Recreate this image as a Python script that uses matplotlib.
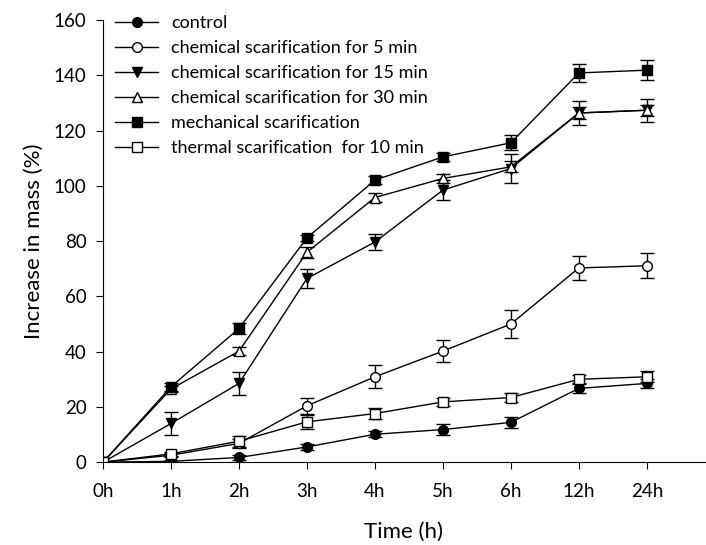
import matplotlib
matplotlib.use('Agg')
import matplotlib.pyplot as plt
import numpy as np

plt.rcParams['font.family'] = ['Lato', 'DejaVu Sans']

times = ['0h', '1h', '2h', '3h', '4h', '5h', '6h', '12h', '24h']

control = [0, 0.3, 1.7, 5.5, 10.1, 11.8, 14.4, 26.7, 28.5]
control_err = [0, 0.5, 0.8, 1.0, 1.0, 2.0, 2.0, 1.5, 1.5]

chem5 = [0, 2.5, 6.8, 20.4, 30.9, 40.2, 50.0, 70.3, 71.1]
chem5_err = [0, 0.8, 1.5, 3.0, 4.2, 4.0, 5.0, 4.4, 4.6]

chem15 = [0, 14.0, 28.5, 66.5, 79.7, 98.5, 106.3, 126.4, 127.4]
chem15_err = [0, 4.2, 4.3, 3.6, 3.0, 3.6, 5.3, 4.2, 4.2]

chem30 = [0, 26.5, 40.2, 76.0, 95.8, 102.7, 106.9, 126.4, 127.4]
chem30_err = [0, 1.0, 1.5, 2.0, 1.5, 1.5, 2.0, 2.0, 2.0]

mech = [0, 27.3, 48.4, 81.2, 102.1, 110.5, 115.6, 140.9, 141.9]
mech_err = [0, 1.5, 2.0, 1.0, 1.5, 1.5, 2.7, 3.4, 3.7]

thermal = [0, 3.0, 7.6, 14.6, 17.6, 21.8, 23.4, 30.0, 30.9]
thermal_err = [0, 0.8, 2.0, 2.5, 2.0, 1.5, 1.5, 1.5, 2.0]

labels = ['control',
          'chemical scarification for 5 min',
          'chemical scarification for 15 min',
          'chemical scarification for 30 min',
          'mechanical scarification',
          'thermal scarification  for 10 min']

series = [(control, control_err, 'o', 'black'),
          (chem5, chem5_err, 'o', 'white'),
          (chem15, chem15_err, 'v', 'black'),
          (chem30, chem30_err, '^', 'white'),
          (mech, mech_err, 's', 'black'),
          (thermal, thermal_err, 's', 'white')]

fig = plt.figure(figsize=(7.06, 5.45), dpi=100)
ax = fig.add_axes([0.146, 0.152, 0.852, 0.811])
x = np.arange(len(times))

for (vals, err, m, fc), lab in zip(series, labels):
    ax.errorbar(x, vals, yerr=err, marker=m, ms=7, mfc=fc, mec='black',
                color='black', lw=1, elinewidth=1, capsize=5, capthick=1,
                label=lab)

ax.set_xlim(0, 8.85)
ax.set_ylim(0, 160)
ax.set_xticks(x)
ax.set_xticklabels(times)
ax.set_yticks(np.arange(0, 161, 20))
ax.spines['top'].set_visible(False)
ax.spines['right'].set_visible(False)
ax.tick_params(labelsize=13.5, direction='out', length=5)
ax.tick_params(axis='x', pad=10)
ax.tick_params(axis='y', pad=7)
ax.set_xlabel('Time (h)', fontsize=16, labelpad=16)
ax.set_ylabel('Increase in mass (%)', fontsize=16, labelpad=7)

handles, labs = ax.get_legend_handles_labels()
handles = [h[0] for h in handles]
ax.legend(handles, labs, loc='upper left', bbox_to_anchor=(0.163, 0.972),
          bbox_transform=fig.transFigure, frameon=False, fontsize=13,
          handlelength=2.4, handletextpad=0.7, labelspacing=0.5,
          borderaxespad=0, borderpad=0)

fig.savefig('out.png', dpi=100)
